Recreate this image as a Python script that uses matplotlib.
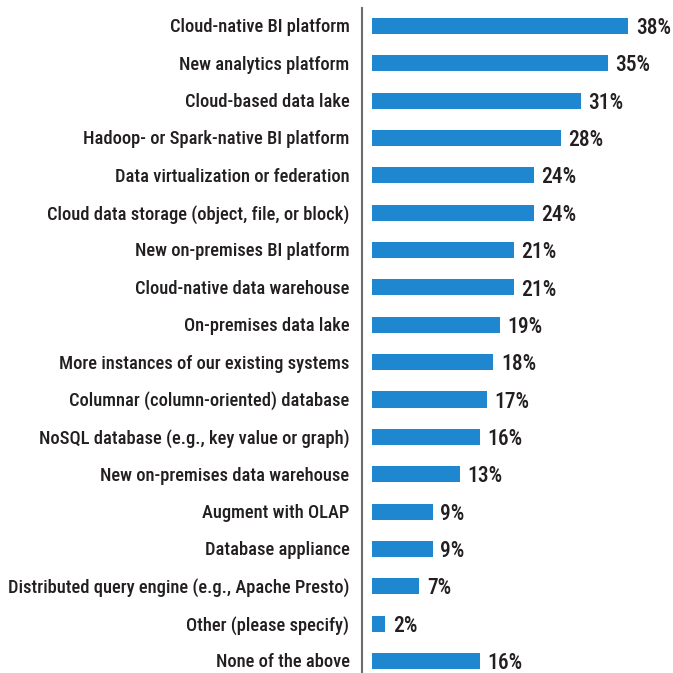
import matplotlib
matplotlib.use("Agg")
import matplotlib.pyplot as plt

categories = [
    "Cloud-native BI platform",
    "New analytics platform",
    "Cloud-based data lake",
    "Hadoop- or Spark-native BI platform",
    "Data virtualization or federation",
    "Cloud data storage (object, file, or block)",
    "New on-premises BI platform",
    "Cloud-native data warehouse",
    "On-premises data lake",
    "More instances of our existing systems",
    "Columnar (column-oriented) database",
    "NoSQL database (e.g., key value or graph)",
    "New on-premises data warehouse",
    "Augment with OLAP",
    "Database appliance",
    "Distributed query engine (e.g., Apache Presto)",
    "Other (please specify)",
    "None of the above",
]
values = [38, 35, 31, 28, 24, 24, 21, 21, 19, 18, 17, 16, 13, 9, 9, 7, 2, 16]

W = H = 673
fig = plt.figure(figsize=(W / 100, H / 100), dpi=100)
ax = fig.add_axes([362 / W, 0, (W - 362) / W, (673 - 8) / H])

bar_color = "#1f86d0"
text_color = "#231f20"
font = "Roboto Condensed"

y = list(range(len(categories)))
ax.barh(y, values, height=0.43, color=bar_color, left=0)
ax.set_xlim(-1.48, (W - 372) / 6.74)
ax.set_ylim(len(categories) - 1 + 0.32, -0.48)

for yi, v in zip(y, values):
    ax.annotate(f"{v}%", (v, yi), xytext=(5.5, -1.5), textcoords="offset points",
                va="center", ha="left", fontsize=15.5, fontweight=500,
                family=font, color=text_color)

for yi, c in zip(y, categories):
    ax.annotate(c, (0, yi), xycoords=ax.get_yaxis_transform(), xytext=(-9, -1),
                textcoords="offset points", va="center", ha="right",
                fontsize=13.3, family=font, fontweight=500, color=text_color)

ax.set_xticks([])
ax.set_yticks([])
for s in ["top", "right", "bottom"]:
    ax.spines[s].set_visible(False)
ax.spines["left"].set_color("#6d6d6d")
ax.spines["left"].set_linewidth(1.5)

fig.savefig("out.png", dpi=100)
